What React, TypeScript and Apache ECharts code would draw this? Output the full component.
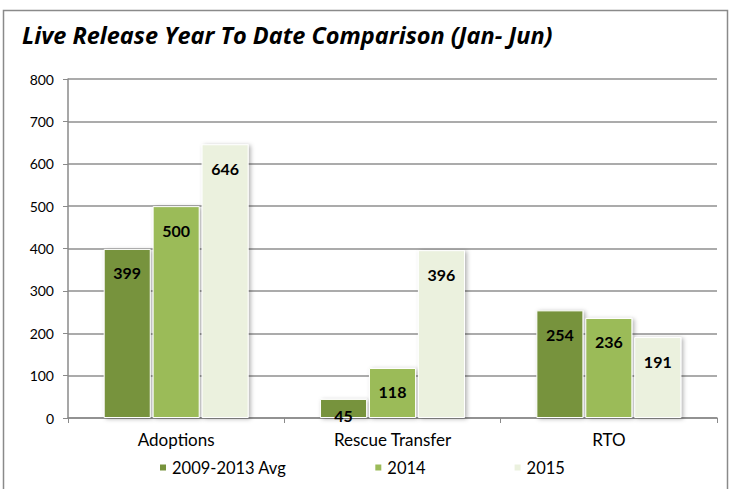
import React, { useEffect, useRef } from "react";
import * as echarts from "echarts";

const categories = ["Adoptions", "Rescue Transfer", "RTO"];
const seriesNames = ["2009-2013 Avg", "2014", "2015"];
const avgValues = [399, 45, 254];
const values2014 = [500, 118, 236];
const values2015 = [646, 396, 191];
const colors = ["#77933C", "#9BBB59", "#EBF1DE"];
const yTicks = { min: 0, max: 800, interval: 100 };
const titleText = "Live Release Year To Date Comparison (Jan- Jun)";

const FONT = "Lato, 'Liberation Sans', sans-serif";

export default function App() {
  const ref = useRef<HTMLDivElement>(null);
  useEffect(() => {
    document.body.style.margin = "0";
    const chart = echarts.init(ref.current!, null, { renderer: "svg" });
    const data = [avgValues, values2014, values2015];
    chart.setOption({
      animation: false,
      backgroundColor: "#fff",
      textStyle: { fontFamily: FONT },
      graphic: [
        {
          type: "rect",
          shape: { x: 3.5, y: 10.5, width: 724, height: 490 },
          style: { fill: "none", stroke: "#8a8a8a", lineWidth: 1.5 },
          silent: true,
        },
        {
          type: "text",
          left: 22,
          top: 23,
          style: {
            text: titleText,
            font: `italic bold 23.5px 'Open Sans', sans-serif`,
            fill: "#000",
          },
        },
      ],
      grid: { left: 68, right: 14, top: 79, bottom: 71 },
      legend: {
        left: 153,
        top: 454,
        icon: "rect",
        itemWidth: 8,
        itemHeight: 8,
        itemGap: 87,
        textStyle: { fontSize: 16.5, color: "#000", fontFamily: FONT },
        data: seriesNames,
      },
      xAxis: {
        type: "category",
        data: categories,
        axisLine: { show: true, lineStyle: { color: "#8a8a8a", width: 1.5 } },
        axisTick: { show: true, length: 5, lineStyle: { color: "#8a8a8a" } },
        axisLabel: { fontSize: 17, color: "#000", margin: 13, fontFamily: FONT },
      },
      yAxis: {
        type: "value",
        min: yTicks.min,
        max: yTicks.max,
        interval: yTicks.interval,
        axisLine: { show: true, lineStyle: { color: "#8a8a8a", width: 1.5 } },
        axisTick: { show: true, length: 5, lineStyle: { color: "#8a8a8a" } },
        axisLabel: { fontSize: 14, color: "#000", margin: 14, fontFamily: FONT },
        splitLine: { lineStyle: { color: "#8f8f8f", width: 1.5 } },
      },
      series: seriesNames.map((name, i) => ({
        name,
        type: "bar",
        data: data[i].map((v) =>
          v < 60 ? { value: v, label: { distance: 9 } } : v
        ),
        barGap: "4%",
        barCategoryGap: "33%",
        itemStyle: {
          color: colors[i],
          borderColor: "#fff",
          borderWidth: 1,
          shadowBlur: 4,
          shadowColor: "rgba(0,0,0,0.3)",
          shadowOffsetX: 2,
          shadowOffsetY: 1,
        },
        label: {
          show: true,
          position: "insideTop",
          distance: 16,
          fontSize: 16,
          fontWeight: "bold",
          color: "#000",
          fontFamily: FONT,
        },
      })),
    });
    return () => chart.dispose();
  }, []);
  return <div ref={ref} style={{ width: 731, height: 489 }} />;
}
